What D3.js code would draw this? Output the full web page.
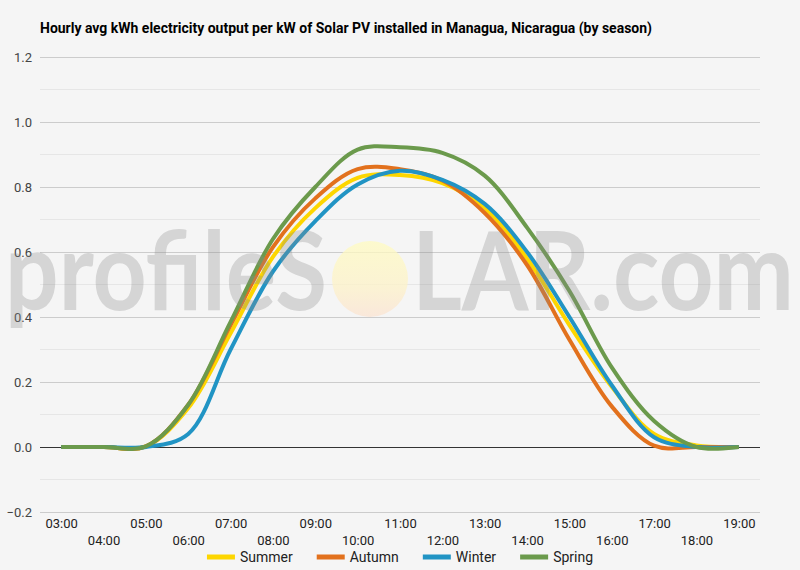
<!DOCTYPE html>
<html lang="en">

<head>
    <meta charset="utf-8">
    <title>Managua solar output</title>
    <script type="text/javascript" src="https://d3js.org/d3.v7.min.js"></script>
    <style>
        body { margin: 0; background: #f5f5f5; }
        text { font-family: Roboto, "Noto Sans", sans-serif; }
    </style>
</head>

<body>
    <div id="container"></div>
    <script type="text/javascript">
        var w = 800;
        var h = 570;

        // hour categories and tick labels
        var hours = ["03:00", "04:00", "05:00", "06:00", "07:00", "08:00", "09:00", "10:00", "11:00",
            "12:00", "13:00", "14:00", "15:00", "16:00", "17:00", "18:00", "19:00"];
        var yTicks = [-0.2, 0, 0.2, 0.4, 0.6, 0.8, 1.0, 1.2];

        // kWh per kW
        var summer = [0, 0, 0.002, 0.12, 0.35, 0.585, 0.735, 0.828, 0.837, 0.812, 0.735, 0.58, 0.375, 0.185, 0.04, 0.005, 0];
        var autumn = [0, 0, 0.002, 0.13, 0.375, 0.615, 0.765, 0.855, 0.855, 0.82, 0.72, 0.56, 0.33, 0.125, 0.004, 0, 0];
        var winter = [0, 0, 0, 0.04, 0.30, 0.54, 0.695, 0.808, 0.85, 0.822, 0.748, 0.60, 0.40, 0.19, 0.03, 0, 0];
        var spring = [0, 0, 0.002, 0.13, 0.385, 0.64, 0.80, 0.915, 0.922, 0.905, 0.835, 0.675, 0.48, 0.245, 0.08, 0, 0];

        var seasons = ["Summer", "Autumn", "Winter", "Spring"];
        var colors = ["#fdd600", "#e2711d", "#2194c4", "#6b9a4c"];
        var seriesData = [summer, autumn, winter, spring];

        var plotLeft = 40, plotRight = 760, plotTop = 57, plotBottom = 512;

        const svg = d3.select("div#container")
            .append("svg")
            .attr("width", w)
            .attr("height", h)
            .style("background-color", "#f5f5f5");

        var x = d3.scalePoint().domain(hours).range([plotLeft, plotRight]).padding(0.5);
        var y = d3.scaleLinear().domain([-0.2, 1.2]).range([plotBottom, plotTop]);

        // title
        svg.append("text")
            .attr("x", 40)
            .attr("y", 33)
            .attr("font-size", "14px")
            .attr("font-weight", "bold")
            .attr("fill", "#000")
            .attr("textLength", 612)
            .attr("lengthAdjust", "spacingAndGlyphs")
            .text("Hourly avg kWh electricity output per kW of Solar PV installed in Managua, Nicaragua (by season)");

        // minor gridlines
        svg.append("g")
            .selectAll("line")
            .data(d3.range(-0.1, 1.2, 0.2))
            .enter()
            .append("line")
            .attr("x1", plotLeft).attr("x2", plotRight)
            .attr("y1", (d) => y(d)).attr("y2", (d) => y(d))
            .attr("stroke", "#e6e6e6")
            .attr("stroke-width", 1);

        // major gridlines + y labels
        var yAxis = d3.axisLeft(y).tickValues(yTicks).tickSize(-(plotRight - plotLeft)).tickFormat(d3.format(".1f"));
        var gy = svg.append("g")
            .attr("transform", "translate(" + plotLeft + ",0)")
            .call(yAxis);
        gy.select(".domain").remove();
        gy.selectAll(".tick line").attr("stroke", (d) => d === 0 ? "#333" : "#cccccc");
        gy.selectAll(".tick text")
            .attr("x", -8)
            .attr("font-size", "13px")
            .attr("fill", "#444")
            .style("font-family", "Roboto");

        // x labels, staggered in two rows
        var xAxis = d3.axisBottom(x).tickSize(0);
        var gx = svg.append("g")
            .attr("transform", "translate(0," + plotBottom + ")")
            .call(xAxis);
        gx.select(".domain").remove();
        gx.selectAll(".tick text")
            .attr("y", (d, i) => i % 2 === 0 ? 16 : 33)
            .attr("dy", 0)
            .attr("font-size", "13px")
            .attr("fill", "#222")
            .style("font-family", "Roboto");

        // lines
        var line = d3.line()
            .x((d, i) => x(hours[i]))
            .y((d) => y(d))
            .curve(d3.curveCatmullRom.alpha(0.5));

        svg.append("g")
            .selectAll("path")
            .data(seriesData)
            .enter()
            .append("path")
            .attr("d", line)
            .attr("fill", "none")
            .attr("stroke", (d, i) => colors[i])
            .attr("stroke-width", 4)
            .attr("stroke-linejoin", "round");

        // watermark over the plot
        var defs = svg.append("defs");
        var grad = defs.append("linearGradient").attr("id", "sun").attr("x1", 0).attr("y1", 0).attr("x2", 0).attr("y2", 1);
        grad.append("stop").attr("offset", "0%").attr("stop-color", "#fffbc0");
        grad.append("stop").attr("offset", "60%").attr("stop-color", "#fdf2c8");
        grad.append("stop").attr("offset", "100%").attr("stop-color", "#fbe3d2");

        var wm = svg.append("g").attr("opacity", 0.75);
        wm.append("circle")
            .attr("cx", 370).attr("cy", 279).attr("r", 38)
            .attr("fill", "url(#sun)");
        var wmText = svg.append("g").attr("opacity", 0.3).attr("fill", "#8c8c8c");
        wmText.append("text")
            .attr("x", 5).attr("y", 310)
            .attr("font-size", "110px")
            .attr("font-weight", "bold")
            .style("font-family", "Lato, 'DejaVu Sans', sans-serif")
            .attr("textLength", 322)
            .attr("lengthAdjust", "spacingAndGlyphs")
            .text("profileS");
        wmText.append("text")
            .attr("x", 412).attr("y", 310)
            .attr("font-size", "110px")
            .attr("font-weight", "bold")
            .style("font-family", "Lato, 'DejaVu Sans', sans-serif")
            .attr("textLength", 382)
            .attr("lengthAdjust", "spacingAndGlyphs")
            .text("LAR.com");

        // legend
        var legend = svg.append("g");
        var items = legend.selectAll("g")
            .data(seasons)
            .enter()
            .append("g");
        items.append("line")
            .attr("x1", 0).attr("x2", 28)
            .attr("y1", 0).attr("y2", 0)
            .attr("stroke", (d, i) => colors[i])
            .attr("stroke-width", 5);
        items.append("text")
            .attr("x", 33)
            .attr("y", 5)
            .attr("font-size", "14px")
            .attr("fill", "#222")
            .text((d) => d);

        var offsets = [];
        var cur = 0;
        items.each(function (d, i) {
            var tw = d3.select(this).select("text").node().getComputedTextLength();
            offsets.push(cur);
            cur += 33 + tw + 24;
        });
        var total = cur - 24;
        var start = (w - total) / 2;
        items.attr("transform", (d, i) => "translate(" + (start + offsets[i]) + ",557)");
    </script>
</body>

</html>
